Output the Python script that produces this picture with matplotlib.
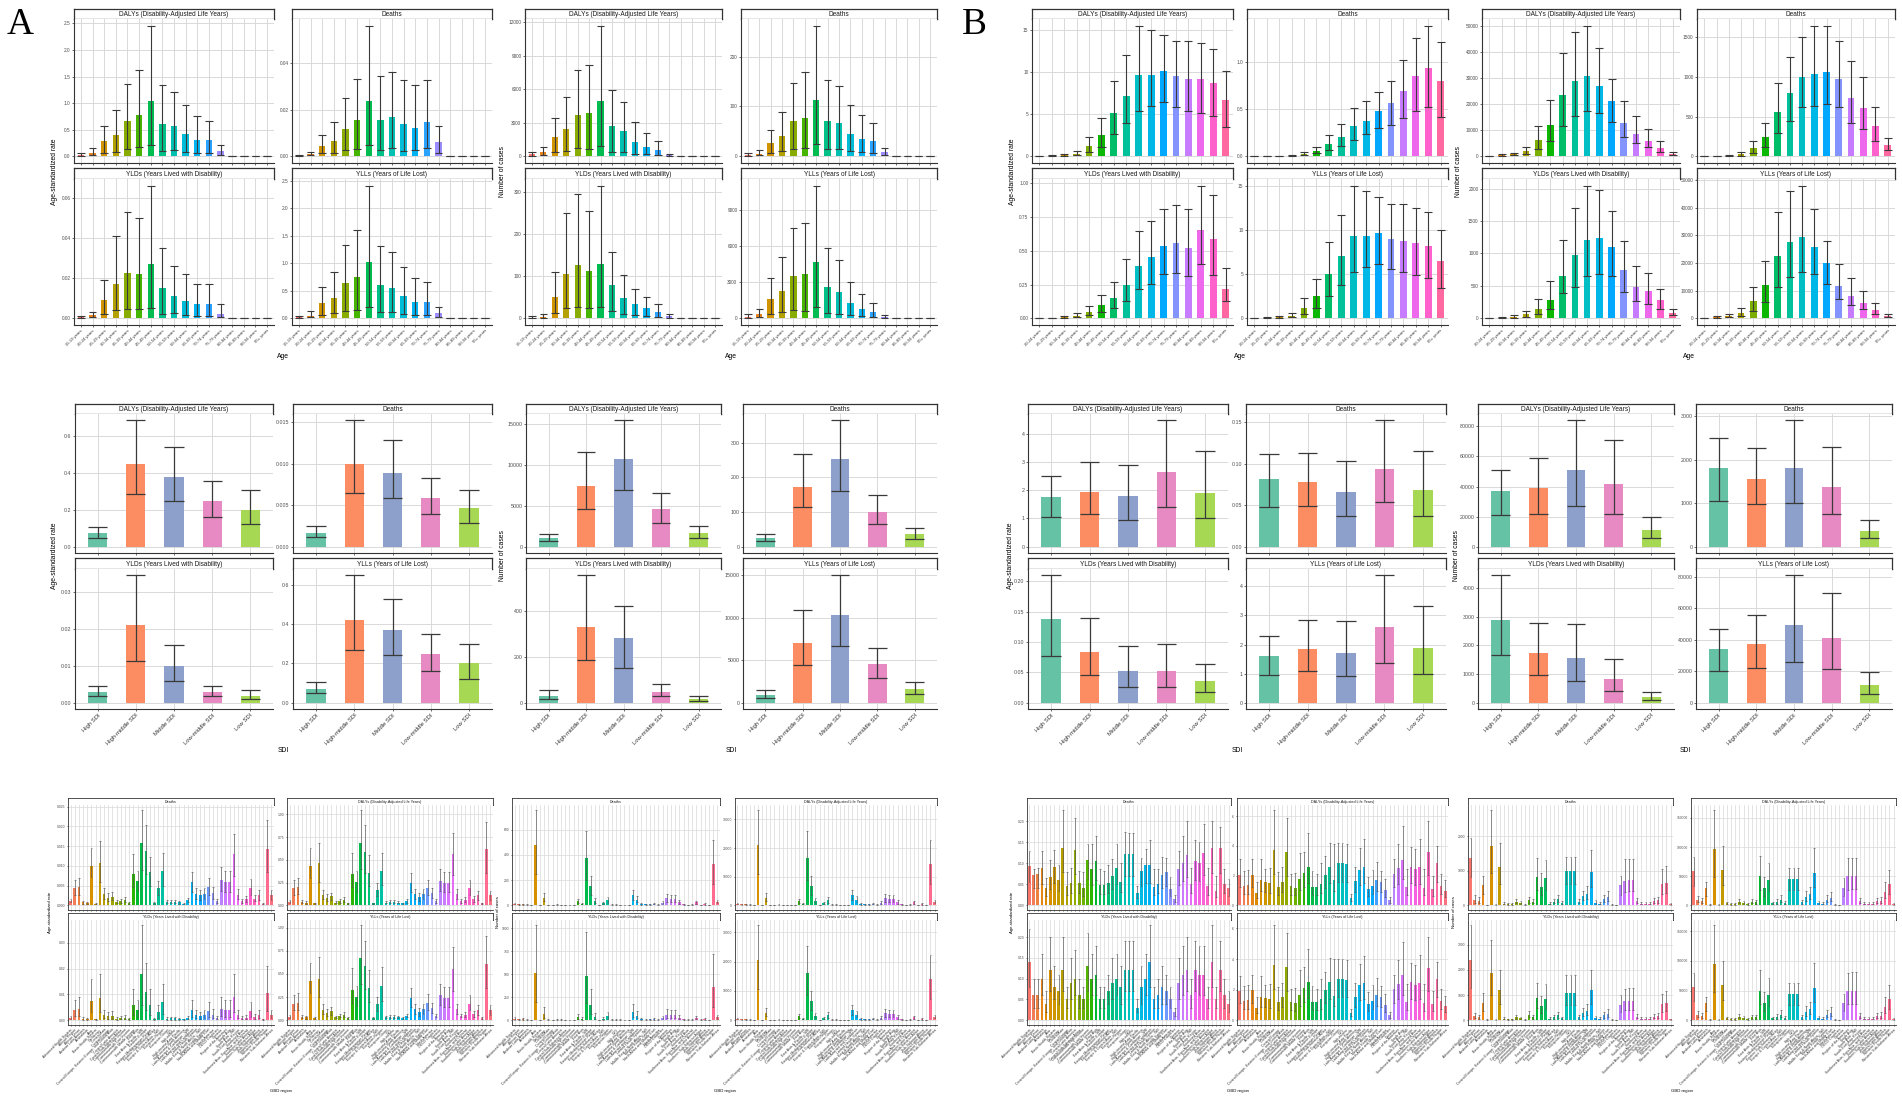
#%% libraries
import numpy as np
import matplotlib.pyplot as plt

plt.rcParams['font.family'] = ['Liberation Sans', 'DejaVu Sans']

#%% categories
age_a = ['15-19 years', '20-24 years', '25-29 years', '30-34 years', '35-39 years', '40-44 years',
         '45-49 years', '50-54 years', '55-59 years', '60-64 years', '65-69 years', '70-74 years',
         '75-79 years', '80-84 years', '85-89 years', '90-94 years', '95+ years']
age_b = ['20-24 years', '25-29 years', '30-34 years', '35-39 years', '40-44 years', '45-49 years',
         '50-54 years', '55-59 years', '60-64 years', '65-69 years', '70-74 years', '75-79 years',
         '80-84 years', '85-89 years', '90-94 years', '95+ years']
sdi = ['High SDI', 'High-middle SDI', 'Middle SDI', 'Low-middle SDI', 'Low SDI']
regions = ["Advanced Health System", "African Region", "African Union", "Andean Latin America", "Australasia",
           "Asia", "Basic Health System", "Caribbean", "Central Asia", "Central Europe",
           "Central Europe, Eastern Europe, and Central Asia", "Central Latin America", "Central Sub-Saharan Africa",
           "Commonwealth High Income", "Commonwealth Low Income",
           "Commonwealth Middle Income", "East Asia", "East Asia & Pacific - WB", "Eastern Europe",
           "Eastern Mediterranean Region",
           "Eastern Sub-Saharan Africa", "Europe & Central Asia - WB", "European Region", "European Union", "G20",
           "High-income", "High-income Asia Pacific", "High-income North America", "Latin America & Caribbean - WB",
           "Latin America and Caribbean",
           "Limited Health System", "Middle East & North Africa - WB", "Minimal Health System",
           "North Africa and Middle East", "North America",
           "OECD Countries", "Oceania", "Region of the Americas", "South Asia", "South Asia - WB",
           "South-East Asia Region", "Southeast Asia", "Southeast Asia, East Asia, and Oceania",
           "Southern Latin America", "Southern Sub-Saharan Africa",
           "Sub-Saharan Africa", "Tropical Latin America", "Western Pacific Region", "Western Sub-Saharan Africa"]

#%% data, every facet is (value, lower, upper)
# panel A, age
a_age_rate_dalys = ([0.03, 0.07, 0.29, 0.40, 0.66, 0.77, 1.04, 0.61, 0.57, 0.42, 0.30, 0.30, 0.10, 0, 0, 0, 0],
                    [0.01, 0.03, 0.07, 0.09, 0.14, 0.17, 0.21, 0.11, 0.12, 0.08, 0.07, 0.07, 0.02, 0, 0, 0, 0],
                    [0.06, 0.16, 0.58, 0.87, 1.36, 1.63, 2.46, 1.34, 1.22, 0.96, 0.76, 0.66, 0.21, 0, 0, 0, 0])
a_age_rate_deaths = ([0.0005, 0.001, 0.0045, 0.0066, 0.012, 0.0157, 0.0239, 0.0157, 0.0168, 0.0141, 0.0124, 0.0149, 0.0061, 0, 0, 0, 0],
                     [0.0003, 0.0005, 0.0014, 0.0016, 0.0028, 0.0033, 0.005, 0.0028, 0.0038, 0.0025, 0.0028, 0.0035, 0.0014, 0, 0, 0, 0],
                     [0.0008, 0.002, 0.0092, 0.0146, 0.0253, 0.0332, 0.0562, 0.0345, 0.0362, 0.0328, 0.0307, 0.0328, 0.013, 0, 0, 0, 0])
a_age_rate_ylds = ([0.0007, 0.0015, 0.009, 0.017, 0.0225, 0.022, 0.027, 0.015, 0.011, 0.0085, 0.007, 0.007, 0.0023, 0, 0, 0, 0],
                   [0.0003, 0.0006, 0.0023, 0.004, 0.0048, 0.0045, 0.005, 0.0023, 0.0028, 0.0015, 0.0013, 0.0013, 0.0005, 0, 0, 0, 0],
                   [0.0012, 0.003, 0.019, 0.041, 0.0527, 0.050, 0.066, 0.035, 0.026, 0.022, 0.0173, 0.0173, 0.007, 0, 0, 0, 0])
a_age_rate_ylls = ([0.02, 0.05, 0.27, 0.37, 0.64, 0.75, 1.02, 0.60, 0.56, 0.41, 0.30, 0.29, 0.09, 0, 0, 0, 0],
                   [0.01, 0.02, 0.07, 0.09, 0.14, 0.16, 0.20, 0.11, 0.12, 0.08, 0.07, 0.07, 0.02, 0, 0, 0, 0],
                   [0.05, 0.13, 0.57, 0.85, 1.34, 1.60, 2.41, 1.32, 1.21, 0.94, 0.74, 0.66, 0.20, 0, 0, 0, 0])
a_age_num_dalys = ([200, 380, 1700, 2410, 3740, 3880, 4970, 2740, 2290, 1320, 820, 590, 150, 0, 0, 0, 0],
                   [80, 150, 410, 530, 735, 680, 970, 440, 410, 260, 180, 150, 40, 0, 0, 0, 0],
                   [400, 850, 3470, 5320, 7710, 8150, 11680, 5970, 4820, 3090, 2120, 1380, 260, 0, 0, 0, 0])
a_age_num_deaths = ([3, 5, 27, 40, 70, 77, 113, 70, 67, 45, 35, 30, 8, 0, 0, 0, 0],
                    [1, 2, 6, 10, 15, 17, 25, 15, 15, 10, 8, 7, 2, 0, 0, 0, 0],
                    [6, 13, 53, 88, 148, 170, 262, 153, 142, 103, 83, 67, 17, 0, 0, 0, 0])
a_age_num_ylds = ([2, 4, 50, 104, 126, 112, 128, 78, 48, 33, 24, 15, 5, 0, 0, 0, 0],
                  [1, 2, 12, 25, 28, 25, 27, 17, 11, 8, 6, 4, 1, 0, 0, 0, 0],
                  [5, 10, 110, 249, 295, 253, 314, 156, 103, 70, 50, 35, 10, 0, 0, 0, 0])
a_age_num_ylls = ([150, 350, 1600, 2300, 3500, 3700, 4700, 2600, 2200, 1300, 800, 550, 150, 0, 0, 0, 0],
                  [60, 140, 400, 500, 700, 650, 920, 420, 390, 250, 170, 140, 40, 0, 0, 0, 0],
                  [350, 800, 3340, 5090, 7500, 7900, 11000, 5830, 4800, 3000, 2000, 1300, 250, 0, 0, 0, 0])

# panel B, age
b_age_rate_dalys = ([0.02, 0.08, 0.15, 0.28, 1.26, 2.6, 5.2, 7.24, 9.65, 9.72, 10.16, 9.57, 9.25, 9.17, 8.74, 6.7],
                    [0.01, 0.04, 0.07, 0.12, 0.5, 1.18, 2.64, 3.94, 5.39, 5.98, 6.42, 5.9, 5.43, 5.2, 4.8, 3.5],
                    [0.05, 0.15, 0.3, 0.67, 2.36, 4.53, 8.94, 12.0, 15.55, 15.04, 14.45, 13.66, 13.66, 13.46, 12.8, 10.2])
b_age_rate_deaths = ([0.0005, 0.001, 0.002, 0.008, 0.025, 0.06, 0.133, 0.207, 0.319, 0.382, 0.481, 0.568, 0.698, 0.856, 0.94, 0.807],
                     [0.0002, 0.0005, 0.001, 0.004, 0.012, 0.035, 0.07, 0.116, 0.179, 0.235, 0.305, 0.34, 0.41, 0.484, 0.526, 0.42],
                     [0.001, 0.002, 0.004, 0.014, 0.049, 0.105, 0.228, 0.344, 0.516, 0.589, 0.681, 0.807, 1.025, 1.256, 1.393, 1.22])
b_age_rate_ylds = ([0.001, 0.003, 0.007, 0.02, 0.05, 0.1, 0.15, 0.25, 0.385, 0.452, 0.533, 0.558, 0.522, 0.651, 0.587, 0.22],
                   [0.0004, 0.001, 0.003, 0.008, 0.025, 0.05, 0.08, 0.13, 0.22, 0.256, 0.324, 0.337, 0.312, 0.398, 0.32, 0.13],
                   [0.002, 0.006, 0.014, 0.04, 0.09, 0.17, 0.27, 0.435, 0.644, 0.718, 0.804, 0.84, 0.804, 0.98, 0.914, 0.37])
b_age_rate_ylls = ([0.02, 0.07, 0.14, 0.26, 1.21, 2.5, 5.05, 7.0, 9.27, 9.27, 9.63, 9.02, 8.73, 8.52, 8.15, 6.5],
                   [0.01, 0.03, 0.06, 0.11, 0.47, 1.12, 2.55, 3.8, 5.2, 5.8, 6.17, 5.56, 5.2, 4.9, 4.55, 3.38],
                   [0.05, 0.14, 0.28, 0.62, 2.25, 4.44, 8.68, 11.7, 15.0, 14.4, 13.76, 12.9, 12.9, 12.5, 12.07, 10.0])
b_age_num_dalys = ([100, 630, 880, 1900, 6300, 12200, 23300, 28700, 30600, 27080, 21030, 12600, 8700, 6000, 3200, 900],
                   [40, 300, 400, 900, 2770, 5920, 11590, 15360, 17380, 16620, 13220, 7560, 5200, 3600, 1800, 500],
                   [250, 1000, 1500, 3780, 11590, 21400, 39670, 47600, 50000, 41560, 29600, 21000, 15500, 10500, 5800, 1600])
b_age_num_deaths = ([1, 3, 8, 25, 110, 250, 560, 800, 1000, 1040, 1060, 980, 740, 610, 380, 150],
                    [0.5, 1, 3, 10, 45, 120, 300, 450, 620, 640, 660, 620, 420, 340, 200, 80],
                    [2, 6, 15, 50, 200, 420, 920, 1250, 1500, 1650, 1650, 1450, 1200, 1000, 620, 230])
b_age_num_ylds = ([3, 10, 25, 60, 150, 290, 655, 980, 1211, 1237, 1098, 740, 480, 420, 280, 90],
                  [1, 4, 10, 25, 65, 140, 387, 490, 655, 680, 660, 400, 260, 220, 150, 45],
                  [6, 20, 50, 120, 300, 582, 1211, 1701, 2046, 1974, 1660, 1200, 800, 700, 450, 150])
b_age_num_ylls = ([100, 620, 850, 1840, 6150, 11900, 22650, 27700, 29400, 25840, 19930, 11860, 8200, 5600, 2900, 800],
                  [40, 290, 390, 870, 2700, 5780, 11200, 14870, 16720, 15940, 12560, 7160, 4940, 3380, 1650, 450],
                  [240, 980, 1450, 3660, 11300, 20800, 38500, 46000, 48000, 39600, 28000, 19800, 14700, 9800, 5400, 1450])

# SDI
a_sdi_rate_dalys = ([0.076, 0.449, 0.378, 0.250, 0.200], [0.049, 0.286, 0.247, 0.160, 0.122], [0.108, 0.688, 0.542, 0.357, 0.306])
a_sdi_rate_deaths = ([0.0017, 0.0100, 0.0089, 0.0058, 0.0046], [0.00115, 0.0064, 0.00585, 0.0039, 0.0029], [0.0025, 0.0152, 0.0128, 0.0083, 0.0068])
a_sdi_rate_ylds = ([0.0028, 0.021, 0.010, 0.0028, 0.0019], [0.0017, 0.0114, 0.0058, 0.0017, 0.001], [0.0046, 0.0345, 0.0155, 0.0044, 0.0033])
a_sdi_rate_ylls = ([0.071, 0.42, 0.37, 0.247, 0.20], [0.048, 0.27, 0.243, 0.16, 0.12], [0.105, 0.65, 0.53, 0.35, 0.30])
a_sdi_num_dalys = ([1008, 7339, 10645, 4556, 1613], [685, 4637, 6935, 2944, 1008], [1532, 11492, 15403, 6532, 2500])
a_sdi_num_deaths = ([26, 173, 253, 100, 38], [17.5, 114, 160, 65, 22], [38, 268, 365, 148, 55])
a_sdi_num_ylds = ([30, 330, 280, 45, 15], [18, 185, 150, 28, 8], [55, 555, 420, 80, 30])
a_sdi_num_ylls = ([900, 7000, 10300, 4500, 1600], [600, 4400, 6700, 2900, 1000], [1500, 10900, 15000, 6400, 2450])
b_sdi_rate_dalys = ([1.76, 1.94, 1.78, 2.66, 1.91], [1.04, 1.16, 0.96, 1.41, 1.0], [2.49, 2.99, 2.91, 4.48, 3.40])
b_sdi_rate_deaths = ([0.081, 0.078, 0.0656, 0.0935, 0.0676], [0.0477, 0.0485, 0.037, 0.0537, 0.0374], [0.112, 0.113, 0.103, 0.152, 0.115])
b_sdi_rate_ylds = ([0.138, 0.084, 0.052, 0.052, 0.035], [0.077, 0.046, 0.026, 0.026, 0.017], [0.21, 0.14, 0.093, 0.097, 0.064])
b_sdi_rate_ylls = ([1.62, 1.84, 1.72, 2.6, 1.87], [0.95, 1.09, 0.92, 1.38, 0.98], [2.3, 2.85, 2.8, 4.38, 3.34])
b_sdi_num_dalys = ([37000, 39000, 51000, 41500, 11000], [21000, 22000, 27000, 22000, 6000], [51000, 59000, 84000, 71000, 20000])
b_sdi_num_deaths = ([1800, 1560, 1800, 1380, 370], [1050, 970, 1000, 760, 200], [2500, 2270, 2900, 2280, 620])
b_sdi_num_ylds = ([2900, 1741, 1553, 835, 188], [1682, 965, 753, 424, 94], [4450, 2800, 2750, 1541, 388])
b_sdi_num_ylls = ([34160, 37400, 49500, 41000, 11030], [20100, 22270, 26160, 21190, 5620], [47000, 56000, 81000, 70000, 19680])

# GBD regions, panel A
a_gbd_rate_deaths = (
    [0.0011, 0.0044, 0.0046, 0.0007, 0.0005, 0.0100, 0.0004, 0.0107, 0.0029, 0.0019, 0.0022, 0.0008, 0.0011, 0.0013, 0.0005, 0.0079, 0.0061, 0.0158, 0.0138, 0.0083, 0.0005, 0.0043, 0.0086, 0.0008, 0.0009, 0.0009, 0.0007, 0.0004, 0.0012, 0.0058, 0.0029, 0.0025, 0.0029, 0.0046, 0.0030, 0.0011, 0.0063, 0.0058, 0.0058, 0.0129, 0.0027, 0.0011, 0.0015, 0.0044, 0.0017, 0.0025, 0.0004, 0.0142, 0.0025],
    [0.0007, 0.0026, 0.0027, 0.0004, 0.0003, 0.0071, 0.0002, 0.0060, 0.0017, 0.0011, 0.0013, 0.0005, 0.0006, 0.0008, 0.0003, 0.0046, 0.0036, 0.0090, 0.0080, 0.0048, 0.0003, 0.0025, 0.0050, 0.0005, 0.0005, 0.0005, 0.0004, 0.0002, 0.0007, 0.0034, 0.0017, 0.0014, 0.0017, 0.0027, 0.0017, 0.0006, 0.0037, 0.0034, 0.0034, 0.0075, 0.0016, 0.0006, 0.0009, 0.0026, 0.0010, 0.0014, 0.0002, 0.0083, 0.0014],
    [0.0015, 0.0063, 0.0069, 0.0011, 0.0009, 0.0146, 0.0006, 0.0163, 0.0044, 0.0030, 0.0034, 0.0012, 0.0016, 0.0020, 0.0008, 0.0130, 0.0088, 0.0242, 0.0203, 0.0123, 0.0008, 0.0061, 0.0132, 0.0012, 0.0013, 0.0013, 0.0011, 0.0006, 0.0018, 0.0084, 0.0044, 0.0038, 0.0044, 0.0069, 0.0046, 0.0016, 0.0096, 0.0088, 0.0088, 0.0180, 0.0041, 0.0016, 0.0023, 0.0066, 0.0026, 0.0038, 0.0006, 0.0215, 0.0038])
a_gbd_rate_dalys = (
    [0.04, 0.19, 0.20, 0.04, 0.03, 0.43, 0.02, 0.46, 0.11, 0.08, 0.10, 0.03, 0.05, 0.06, 0.02, 0.34, 0.26, 0.69, 0.59, 0.36, 0.02, 0.17, 0.38, 0.03, 0.04, 0.04, 0.03, 0.02, 0.05, 0.25, 0.12, 0.09, 0.12, 0.19, 0.13, 0.05, 0.27, 0.25, 0.25, 0.56, 0.12, 0.05, 0.06, 0.19, 0.07, 0.11, 0.02, 0.62, 0.11],
    [0.02, 0.11, 0.12, 0.02, 0.01, 0.30, 0.01, 0.26, 0.07, 0.05, 0.06, 0.02, 0.03, 0.04, 0.01, 0.20, 0.15, 0.40, 0.35, 0.21, 0.01, 0.10, 0.22, 0.02, 0.02, 0.02, 0.02, 0.01, 0.03, 0.15, 0.07, 0.05, 0.07, 0.11, 0.08, 0.03, 0.16, 0.15, 0.15, 0.33, 0.07, 0.03, 0.04, 0.11, 0.04, 0.06, 0.01, 0.36, 0.06],
    [0.06, 0.28, 0.30, 0.06, 0.05, 0.63, 0.03, 0.69, 0.17, 0.12, 0.14, 0.05, 0.07, 0.09, 0.03, 0.57, 0.38, 1.05, 0.88, 0.55, 0.03, 0.25, 0.58, 0.05, 0.06, 0.06, 0.05, 0.03, 0.07, 0.36, 0.18, 0.13, 0.18, 0.28, 0.19, 0.07, 0.40, 0.37, 0.37, 0.80, 0.18, 0.07, 0.09, 0.28, 0.10, 0.16, 0.03, 0.92, 0.16])
a_gbd_rate_ylds = (
    [0.0008, 0.004, 0.0045, 0.0006, 0.0004, 0.0075, 0.0003, 0.0085, 0.002, 0.0015, 0.0018, 0.0006, 0.0009, 0.001, 0.0004, 0.006, 0.004, 0.018, 0.011, 0.006, 0.0004, 0.003, 0.007, 0.0006, 0.0007, 0.0007, 0.0005, 0.0003, 0.0009, 0.004, 0.002, 0.0016, 0.002, 0.0035, 0.0022, 0.0008, 0.0045, 0.004, 0.004, 0.009, 0.002, 0.0008, 0.001, 0.0035, 0.0012, 0.002, 0.0003, 0.0105, 0.002],
    [0.0003, 0.0015, 0.0017, 0.0002, 0.0001, 0.003, 0.0001, 0.003, 0.0007, 0.0005, 0.0006, 0.0002, 0.0003, 0.0004, 0.0001, 0.002, 0.0014, 0.006, 0.004, 0.002, 0.0001, 0.001, 0.0025, 0.0002, 0.0002, 0.0002, 0.0002, 0.0001, 0.0003, 0.0014, 0.0007, 0.0006, 0.0007, 0.0012, 0.0008, 0.0003, 0.0016, 0.0014, 0.0014, 0.003, 0.0007, 0.0003, 0.0004, 0.0012, 0.0004, 0.0007, 0.0001, 0.0037, 0.0007],
    [0.0016, 0.008, 0.009, 0.0012, 0.0008, 0.016, 0.0006, 0.018, 0.004, 0.003, 0.0036, 0.0012, 0.0018, 0.002, 0.0008, 0.012, 0.008, 0.037, 0.022, 0.012, 0.0008, 0.006, 0.014, 0.0012, 0.0014, 0.0014, 0.001, 0.0006, 0.0018, 0.008, 0.004, 0.0032, 0.004, 0.007, 0.0044, 0.0016, 0.009, 0.008, 0.008, 0.018, 0.004, 0.0016, 0.002, 0.007, 0.0024, 0.004, 0.0006, 0.021, 0.004])
a_gbd_rate_ylls = (
    [0.04, 0.18, 0.19, 0.04, 0.03, 0.42, 0.02, 0.45, 0.11, 0.08, 0.10, 0.03, 0.05, 0.06, 0.02, 0.33, 0.25, 0.67, 0.58, 0.35, 0.02, 0.17, 0.37, 0.03, 0.04, 0.04, 0.03, 0.02, 0.05, 0.24, 0.12, 0.09, 0.12, 0.19, 0.13, 0.05, 0.27, 0.24, 0.24, 0.55, 0.12, 0.05, 0.06, 0.18, 0.07, 0.11, 0.02, 0.61, 0.11],
    [0.02, 0.11, 0.11, 0.02, 0.01, 0.29, 0.01, 0.25, 0.07, 0.05, 0.06, 0.02, 0.03, 0.04, 0.01, 0.19, 0.15, 0.39, 0.34, 0.20, 0.01, 0.10, 0.21, 0.02, 0.02, 0.02, 0.02, 0.01, 0.03, 0.14, 0.07, 0.05, 0.07, 0.11, 0.08, 0.03, 0.16, 0.14, 0.14, 0.32, 0.07, 0.03, 0.04, 0.11, 0.04, 0.06, 0.01, 0.35, 0.06],
    [0.06, 0.27, 0.29, 0.06, 0.05, 0.62, 0.03, 0.68, 0.17, 0.12, 0.14, 0.05, 0.07, 0.09, 0.03, 0.56, 0.37, 1.03, 0.86, 0.54, 0.03, 0.25, 0.57, 0.05, 0.06, 0.06, 0.05, 0.03, 0.07, 0.35, 0.18, 0.13, 0.18, 0.28, 0.19, 0.07, 0.39, 0.36, 0.36, 0.79, 0.18, 0.07, 0.09, 0.27, 0.10, 0.16, 0.03, 0.91, 0.16])
a_gbd_num_deaths = (
    [12, 6, 8, 4, 1, 480, 2, 60, 3, 2, 4, 3, 2, 2, 1, 30, 12, 380, 150, 35, 1, 15, 40, 5, 4, 3, 2, 1, 80, 45, 10, 6, 8, 12, 5, 20, 55, 50, 50, 25, 8, 3, 4, 22, 3, 10, 1, 330, 28],
    [7, 3, 4, 2, 0.5, 250, 1, 31, 2, 1, 2, 2, 1, 1, 0.5, 16, 6, 200, 80, 18, 0.5, 8, 21, 3, 2, 2, 1, 0.5, 42, 24, 5, 3, 4, 6, 3, 10, 29, 26, 26, 13, 4, 2, 2, 12, 2, 5, 0.5, 170, 15],
    [20, 10, 13, 7, 2, 760, 3, 95, 5, 3, 6, 5, 3, 3, 2, 48, 19, 590, 235, 55, 2, 24, 63, 8, 6, 5, 3, 2, 125, 70, 16, 10, 13, 19, 8, 31, 86, 78, 78, 39, 13, 5, 6, 35, 5, 16, 2, 520, 44])
a_gbd_num_dalys = (
    [530, 260, 350, 180, 45, 21100, 90, 2640, 130, 90, 180, 130, 90, 90, 45, 1320, 530, 16700, 6600, 1540, 45, 660, 1760, 220, 180, 130, 90, 45, 3520, 1980, 440, 260, 350, 530, 220, 880, 2420, 2200, 2200, 1100, 350, 130, 180, 970, 130, 440, 45, 14500, 1230],
    [310, 130, 180, 90, 20, 11000, 45, 1360, 90, 45, 90, 90, 45, 45, 20, 700, 260, 8800, 3520, 790, 20, 350, 920, 130, 90, 90, 45, 20, 1850, 1060, 220, 130, 180, 260, 130, 440, 1280, 1140, 1140, 570, 180, 90, 90, 530, 90, 220, 20, 7500, 660],
    [880, 440, 570, 310, 90, 33400, 130, 4180, 220, 130, 260, 220, 130, 130, 90, 2110, 840, 26000, 10300, 2420, 90, 1060, 2770, 350, 260, 220, 130, 90, 5500, 3080, 700, 440, 570, 840, 350, 1360, 3780, 3430, 3430, 1720, 570, 220, 260, 1540, 220, 700, 90, 22900, 1940])
a_gbd_num_ylds = (
    [15, 8, 10, 5, 1, 520, 2, 70, 4, 3, 5, 4, 2, 3, 1, 35, 15, 480, 170, 40, 1, 18, 45, 6, 5, 4, 2, 1, 90, 50, 12, 7, 9, 14, 6, 22, 60, 55, 55, 28, 9, 4, 5, 25, 4, 12, 1, 360, 30],
    [6, 3, 4, 2, 0.4, 200, 1, 27, 2, 1, 2, 2, 1, 1, 0.4, 14, 6, 185, 65, 15, 0.4, 7, 17, 2, 2, 2, 1, 0.4, 35, 19, 5, 3, 3, 5, 2, 8, 23, 21, 21, 11, 3, 2, 2, 10, 2, 5, 0.4, 140, 12],
    [30, 16, 20, 10, 2, 1040, 4, 140, 8, 6, 10, 8, 4, 6, 2, 70, 30, 960, 340, 80, 2, 36, 90, 12, 10, 8, 4, 2, 180, 100, 24, 14, 18, 28, 12, 44, 120, 110, 110, 56, 18, 8, 10, 50, 8, 24, 2, 720, 60])
a_gbd_num_ylls = (
    [515, 252, 340, 175, 44, 20580, 88, 2570, 126, 87, 175, 126, 88, 87, 44, 1285, 515, 16220, 6430, 1500, 44, 642, 1715, 214, 175, 126, 88, 44, 3430, 1930, 428, 253, 341, 516, 214, 858, 2360, 2145, 2145, 1072, 341, 126, 175, 945, 126, 428, 44, 14140, 1200],
    [300, 127, 175, 88, 20, 10700, 44, 1330, 88, 44, 88, 88, 44, 44, 20, 680, 253, 8600, 3430, 770, 20, 340, 900, 127, 88, 88, 44, 20, 1800, 1030, 215, 127, 175, 253, 127, 430, 1250, 1110, 1110, 555, 175, 88, 88, 515, 88, 215, 20, 7300, 645],
    [860, 430, 555, 300, 88, 32600, 127, 4080, 215, 127, 253, 215, 127, 127, 88, 2060, 820, 25400, 10050, 2360, 88, 1035, 2700, 340, 253, 215, 127, 88, 5370, 3000, 683, 430, 555, 820, 340, 1330, 3690, 3350, 3350, 1680, 555, 215, 253, 1500, 215, 683, 88, 22400, 1890])

# GBD regions, panel B
b_gbd_rate_deaths = (
    [0.094, 0.072, 0.075, 0.088, 0.04, 0.068, 0.09, 0.059, 0.136, 0.045, 0.052, 0.131, 0.054, 0.042, 0.108, 0.085, 0.104, 0.048, 0.048, 0.052, 0.069, 0.088, 0.055, 0.123, 0.122, 0.122, 0.029, 0.081, 0.095, 0.095, 0.044, 0.05, 0.073, 0.079, 0.038, 0.015, 0.085, 0.10, 0.12, 0.05, 0.105, 0.10, 0.125, 0.045, 0.135, 0.035, 0.135, 0.05, 0.04],
    [0.055, 0.04, 0.042, 0.05, 0.022, 0.038, 0.052, 0.033, 0.078, 0.025, 0.029, 0.075, 0.03, 0.023, 0.062, 0.048, 0.06, 0.027, 0.027, 0.029, 0.039, 0.05, 0.031, 0.07, 0.07, 0.07, 0.016, 0.046, 0.054, 0.054, 0.025, 0.028, 0.042, 0.045, 0.021, 0.008, 0.049, 0.057, 0.068, 0.028, 0.06, 0.057, 0.071, 0.025, 0.077, 0.02, 0.077, 0.028, 0.023],
    [0.13, 0.085, 0.088, 0.13, 0.065, 0.108, 0.132, 0.096, 0.227, 0.078, 0.088, 0.208, 0.081, 0.079, 0.146, 0.146, 0.165, 0.085, 0.081, 0.095, 0.11, 0.145, 0.10, 0.173, 0.171, 0.171, 0.045, 0.112, 0.133, 0.154, 0.085, 0.086, 0.115, 0.112, 0.068, 0.025, 0.129, 0.165, 0.20, 0.088, 0.154, 0.15, 0.192, 0.088, 0.2, 0.069, 0.186, 0.085, 0.062])
b_gbd_rate_dalys = (
    [2.07, 1.33, 1.38, 2.07, 0.84, 1.67, 1.56, 1.49, 3.71, 1.22, 1.6, 3.56, 1.27, 1.18, 1.78, 2.18, 2.6, 1.22, 1.22, 1.44, 2.04, 2.6, 1.67, 2.82, 2.82, 2.78, 0.49, 1.62, 2.38, 2.6, 1.11, 1.33, 1.71, 1.56, 1.04, 0.33, 2.11, 2.49, 3.07, 1.22, 2.6, 2.44, 2.56, 1.18, 3.56, 1.11, 2.82, 1.33, 0.96],
    [1.2, 0.75, 0.78, 1.2, 0.47, 0.94, 0.9, 0.85, 2.1, 0.68, 0.9, 2.0, 0.72, 0.66, 1.0, 1.25, 1.5, 0.68, 0.68, 0.8, 1.15, 1.48, 0.95, 1.6, 1.6, 1.58, 0.27, 0.92, 1.35, 1.48, 0.62, 0.75, 0.97, 0.88, 0.58, 0.18, 1.2, 1.42, 1.75, 0.68, 1.48, 1.38, 1.45, 0.66, 2.02, 0.62, 1.6, 0.75, 0.54],
    [3.1, 2.33, 2.38, 3.1, 1.56, 3.1, 2.44, 2.49, 6.44, 2.22, 2.56, 5.89, 2.11, 2.18, 3.49, 3.62, 4.84, 2.29, 2.11, 2.82, 3.33, 4.22, 4.16, 4.22, 4.22, 4.11, 0.78, 2.56, 3.84, 4.44, 1.93, 2.38, 2.89, 2.33, 1.78, 0.56, 3.11, 4.11, 5.33, 2.44, 3.96, 3.78, 4.44, 2.44, 5.67, 2.0, 4.0, 2.11, 1.67])
b_gbd_rate_ylds = (
    [0.14, 0.06, 0.06, 0.1, 0.04, 0.12, 0.08, 0.07, 0.12, 0.05, 0.09, 0.1, 0.06, 0.05, 0.13, 0.1, 0.11, 0.05, 0.05, 0.07, 0.09, 0.1, 0.08, 0.12, 0.12, 0.12, 0.03, 0.08, 0.1, 0.14, 0.05, 0.06, 0.08, 0.07, 0.05, 0.02, 0.09, 0.11, 0.12, 0.06, 0.12, 0.11, 0.11, 0.05, 0.14, 0.05, 0.12, 0.06, 0.04],
    [0.08, 0.03, 0.03, 0.06, 0.02, 0.07, 0.05, 0.04, 0.07, 0.03, 0.05, 0.06, 0.03, 0.03, 0.07, 0.06, 0.06, 0.03, 0.03, 0.04, 0.05, 0.06, 0.04, 0.07, 0.07, 0.07, 0.02, 0.04, 0.06, 0.08, 0.03, 0.03, 0.04, 0.04, 0.03, 0.01, 0.05, 0.06, 0.07, 0.03, 0.07, 0.06, 0.06, 0.03, 0.08, 0.03, 0.07, 0.03, 0.02],
    [0.22, 0.1, 0.1, 0.16, 0.07, 0.2, 0.13, 0.11, 0.2, 0.08, 0.15, 0.17, 0.1, 0.08, 0.21, 0.16, 0.18, 0.08, 0.08, 0.11, 0.15, 0.16, 0.13, 0.19, 0.19, 0.19, 0.05, 0.13, 0.16, 0.23, 0.08, 0.1, 0.13, 0.11, 0.08, 0.03, 0.15, 0.18, 0.2, 0.1, 0.19, 0.18, 0.18, 0.08, 0.23, 0.08, 0.19, 0.1, 0.07])
b_gbd_rate_ylls = (
    [1.93, 1.27, 1.32, 1.97, 0.8, 1.55, 1.48, 1.42, 3.59, 1.17, 1.51, 3.46, 1.21, 1.13, 1.65, 2.08, 2.49, 1.17, 1.17, 1.37, 1.95, 2.5, 1.59, 2.7, 2.7, 2.66, 0.46, 1.54, 2.28, 2.46, 1.06, 1.27, 1.63, 1.49, 0.99, 0.31, 2.02, 2.38, 2.95, 1.16, 2.48, 2.33, 2.45, 1.13, 3.42, 1.06, 2.7, 1.27, 0.92],
    [1.12, 0.72, 0.75, 1.14, 0.45, 0.87, 0.85, 0.81, 2.03, 0.65, 0.85, 1.94, 0.69, 0.63, 0.93, 1.19, 1.44, 0.65, 0.65, 0.76, 1.1, 1.42, 0.91, 1.53, 1.53, 1.51, 0.25, 0.88, 1.29, 1.4, 0.59, 0.72, 0.93, 0.84, 0.55, 0.17, 1.15, 1.36, 1.68, 0.65, 1.41, 1.32, 1.39, 0.63, 1.94, 0.59, 1.53, 0.72, 0.52],
    [2.9, 2.23, 2.28, 2.95, 1.49, 2.9, 2.31, 2.38, 6.24, 2.14, 2.41, 5.72, 2.01, 2.1, 3.28, 3.46, 4.66, 2.21, 2.03, 2.71, 3.18, 4.06, 4.03, 4.03, 4.03, 3.92, 0.73, 2.43, 3.68, 4.21, 1.85, 2.28, 2.76, 2.22, 1.7, 0.53, 2.96, 3.93, 5.13, 2.34, 3.77, 3.6, 4.26, 2.36, 5.44, 1.92, 3.81, 2.01, 1.6])
b_gbd_num_deaths = (
    [1380, 143, 114, 590, 10, 1714, 20, 1095, 48, 29, 29, 95, 67, 20, 143, 95, 810, 524, 790, 48, 95, 171, 67, 1000, 1000, 1000, 95, 257, 333, 952, 76, 48, 171, 238, 20, 5, 571, 714, 733, 733, 124, 48, 48, 48, 124, 143, 600, 640, 30],
    [810, 70, 55, 320, 5, 924, 10, 600, 25, 15, 15, 50, 35, 10, 75, 50, 450, 290, 440, 25, 50, 90, 35, 620, 620, 620, 50, 140, 180, 520, 40, 25, 90, 130, 10, 2, 310, 390, 400, 400, 65, 25, 25, 25, 65, 75, 330, 350, 15],
    [1930, 285, 238, 857, 20, 2760, 40, 1790, 90, 55, 55, 170, 120, 40, 250, 170, 1360, 933, 1314, 90, 170, 300, 120, 1400, 1400, 1400, 170, 420, 560, 1590, 140, 90, 300, 400, 40, 10, 857, 1333, 1340, 1350, 220, 90, 90, 90, 220, 250, 1050, 1124, 55])
b_gbd_num_dalys = (
    [59000, 9550, 6700, 29200, 900, 96600, 1100, 61200, 3000, 2000, 2000, 6000, 4000, 1500, 5600, 5000, 50000, 29000, 44000, 3000, 5500, 9800, 3800, 45000, 45000, 45000, 5200, 14000, 18500, 56000, 4200, 2700, 9500, 13000, 1200, 300, 29000, 50000, 50500, 50500, 7000, 2700, 2700, 2700, 7000, 8000, 23500, 36000, 1700],
    [33100, 5000, 3500, 16000, 450, 48900, 550, 34000, 1500, 1000, 1000, 3200, 2000, 750, 3000, 2600, 27000, 15500, 24000, 1500, 2900, 5200, 2000, 27000, 27000, 27000, 2700, 7500, 10000, 31000, 2200, 1400, 5000, 7000, 600, 150, 16000, 27000, 27500, 27500, 3700, 1400, 1400, 1400, 3700, 4200, 12500, 19500, 900],
    [83700, 16000, 13000, 40400, 1800, 164000, 2200, 101000, 6000, 4000, 4000, 11000, 8000, 3000, 10000, 9000, 85400, 48000, 72500, 6000, 10000, 17000, 7000, 64000, 64000, 64000, 9500, 24000, 31000, 99000, 8000, 5000, 17000, 22000, 2400, 600, 46000, 81000, 82000, 82000, 13000, 5000, 5000, 5000, 13000, 14000, 40000, 61000, 3200])
b_gbd_num_ylds = (
    [2400, 160, 120, 700, 15, 1900, 25, 1200, 60, 35, 35, 110, 80, 25, 220, 120, 900, 560, 850, 60, 110, 200, 80, 1100, 1100, 1100, 110, 300, 380, 1200, 90, 60, 200, 260, 25, 6, 620, 760, 780, 780, 140, 60, 60, 60, 140, 170, 640, 700, 35],
    [1300, 80, 60, 380, 8, 1000, 12, 650, 30, 18, 18, 55, 40, 12, 110, 60, 480, 300, 450, 30, 55, 100, 40, 600, 600, 600, 55, 160, 200, 650, 45, 30, 100, 140, 12, 3, 330, 400, 420, 420, 70, 30, 30, 30, 70, 85, 340, 370, 18],
    [3800, 280, 210, 1100, 30, 3200, 45, 2000, 110, 60, 60, 190, 140, 45, 380, 210, 1500, 950, 1450, 110, 190, 340, 140, 1800, 1800, 1800, 190, 500, 630, 2000, 160, 110, 340, 440, 45, 11, 1000, 1250, 1300, 1300, 240, 110, 110, 110, 240, 290, 1050, 1150, 60])
b_gbd_num_ylls = (
    [56600, 9390, 6580, 28500, 885, 94700, 1075, 60000, 2940, 1965, 1965, 5890, 3920, 1475, 5380, 4880, 49100, 28440, 43150, 2940, 5390, 9600, 3720, 43900, 43900, 43900, 5090, 13700, 18120, 54800, 4110, 2640, 9300, 12740, 1175, 294, 28380, 49240, 49720, 49720, 6860, 2640, 2640, 2640, 6860, 7830, 22860, 35300, 1665],
    [31800, 4920, 3440, 15620, 442, 47900, 538, 33350, 1470, 982, 982, 3145, 1960, 738, 2890, 2540, 26520, 15200, 23550, 1470, 2845, 5100, 1960, 26400, 26400, 26400, 2645, 7340, 9800, 30350, 2155, 1370, 4900, 6860, 588, 147, 15670, 26600, 27080, 27080, 3630, 1370, 1370, 1370, 3630, 4115, 12160, 19130, 882],
    [80000, 15700, 12800, 39300, 1770, 160800, 2150, 99000, 5900, 3940, 3940, 10800, 7860, 2950, 9620, 8790, 83900, 47050, 71050, 5890, 9810, 16660, 6860, 62200, 62200, 62200, 9310, 23500, 30370, 97000, 7840, 4890, 16660, 21560, 2350, 590, 45000, 79750, 80700, 80700, 12760, 4890, 4890, 4890, 12760, 13710, 38950, 59850, 3140])

t_dalys = 'DALYs (Disability-Adjusted Life Years)'
t_deaths = 'Deaths'
t_ylds = 'YLDs (Years Lived with Disability)'
t_ylls = 'YLLs (Years of Life Lost)'
set2 = ['#66C2A5', '#FC8D62', '#8DA0CB', '#E78AC3', '#A6D854']


#%% helpers
def hue_colors(n, c=100.0, l=65.0):
    # ggplot2 default hue palette, hcl -> sRGB
    h = np.deg2rad(np.linspace(15, 375, n + 1)[:-1])
    u, v = c * np.cos(h), c * np.sin(h)
    xn, yn, zn = 95.047, 100.0, 108.883
    un = 4 * xn / (xn + 15 * yn + 3 * zn)
    vn = 9 * yn / (xn + 15 * yn + 3 * zn)
    y = yn * ((l + 16) / 116) ** 3
    up, vp = u / (13 * l) + un, v / (13 * l) + vn
    x = y * 9 * up / (4 * vp)
    z = y * (12 - 3 * up - 20 * vp) / (4 * vp)
    xyz = np.stack([x, np.full_like(x, y), z]) / 100
    m = np.array([[3.2404542, -1.5371385, -0.4985314],
                  [-0.9692660, 1.8760108, 0.0415560],
                  [0.0556434, -0.2040259, 1.0572252]])
    rgb = m @ xyz
    rgb = np.where(rgb <= 0.0031308, 12.92 * rgb, 1.055 * np.abs(rgb) ** (1 / 2.4) - 0.055)
    return np.clip(rgb.T, 0, 1)


def extended(dmin, dmax, m=5, Q=(1, 5, 2, 2.5, 4, 3), w=(0.25, 0.2, 0.5, 0.05)):
    # Wilkinson extended breaks, as used by ggplot2
    eps = 1e-10
    n = len(Q)
    rng = dmax - dmin
    best, best_score = None, -2
    j = 1
    while j < 30:
        stop = False
        for qi, q in enumerate(Q):
            sm = 1 - qi / (n - 1) - j + 1
            if w[0] * sm + w[1] + w[2] + w[3] < best_score:
                stop = True
                break
            k = 2
            while k < 40:
                dm = 2 - (k - 1) / (m - 1) if k >= m else 1
                if w[0] * sm + w[1] + w[2] * dm + w[3] < best_score:
                    break
                delta = rng / (k + 1) / j / q
                z = int(np.ceil(np.log10(delta)))
                while z < 40:
                    step = j * q * 10.0 ** z
                    span = step * (k - 1)
                    if span > rng:
                        half = (span - rng) / 2
                        cm = 1 - 0.5 * (2 * half ** 2) / ((0.1 * rng) ** 2)
                    else:
                        cm = 1
                    if w[0] * sm + w[1] * cm + w[2] * dm + w[3] < best_score:
                        break
                    min_start = int(np.floor(dmax / step)) * j - (k - 1) * j
                    max_start = int(np.ceil(dmin / step)) * j
                    if min_start > max_start:
                        z += 1
                        continue
                    for start in range(min_start, max_start + 1):
                        lmin = start * (step / j)
                        lmax = lmin + step * (k - 1)
                        r = lmin % step
                        vv = 1 if ((r < eps or step - r < eps) and lmin <= 0 <= lmax) else 0
                        s = 1 - qi / (n - 1) - j + vv
                        cc = 1 - 0.5 * ((dmax - lmax) ** 2 + (dmin - lmin) ** 2) / ((0.1 * rng) ** 2)
                        rr = (k - 1) / (lmax - lmin)
                        rt = (m - 1) / (max(lmax, dmax) - min(dmin, lmin))
                        g = 2 - max(rr / rt, rt / rr)
                        score = w[0] * s + w[1] * cc + w[2] * g + w[3]
                        if score > best_score:
                            best_score, best = score, (lmin, lmax, step)
                    z += 1
                k += 1
        if stop:
            break
        j += 1
    lmin, lmax, step = best
    return np.arange(lmin, lmax + step / 2, step)


def fmt(br):
    for d in range(0, 7):
        if np.allclose(np.round(br, d), br, rtol=0, atol=1e-9):
            break
    return [f'{b:.{d}f}' for b in br]


W, H = 1902, 1096
fig = plt.figure(figsize=(W / 100, H / 100), dpi=100)


def add_ax(x0, y0, x1, y1):
    return fig.add_axes([x0 / W, 1 - y1 / H, (x1 - x0) / W, (y1 - y0) / H])


def facet(xs, ys, title, cats, data, colors, st, show_x):
    x0, x1 = xs
    s0, s1, p1 = ys
    sax = add_ax(x0, s0, x1, s1)
    sax.set_xticks([])
    sax.set_yticks([])
    for sp in sax.spines.values():
        sp.set_color('#333333')
        sp.set_linewidth(st['slw'])
    sax.text(0.5, 0.45, title, ha='center', va='center', fontsize=st['strip'], color='#1A1A1A',
             transform=sax.transAxes)

    ax = add_ax(x0, s1, x1, p1)
    val, lo, hi = (np.array(a, dtype=float) for a in data)
    x = np.arange(len(cats))
    ax.bar(x, val, width=st['bw'], color=colors, zorder=2)
    ax.vlines(x, lo, hi, color=st['ecol'], lw=st['elw'], zorder=3)
    cw = st['cw'] / 2
    ax.hlines(lo, x - cw, x + cw, color=st['ecol'], lw=st['elw'], zorder=3)
    ax.hlines(hi, x - cw, x + cw, color=st['ecol'], lw=st['elw'], zorder=3)

    top = hi.max()
    ymin, ymax = -0.05 * top, 1.05 * top
    ax.set_ylim(ymin, ymax)
    ax.set_xlim(-0.6, len(cats) - 0.4)
    br = extended(ymin, ymax)
    br = br[(br >= ymin - 1e-12) & (br <= ymax + 1e-12)]
    ax.set_yticks(br)
    ax.set_yticklabels(fmt(br))
    ax.set_xticks(x)
    if show_x:
        ax.set_xticklabels(cats, rotation=45, ha='right', va='top', rotation_mode='anchor',
                           fontsize=st['xtick'], color='#4D4D4D')
    else:
        ax.set_xticklabels([])
    ax.grid(True, color='#D9D9D9', lw=st['glw'], zorder=0)
    ax.set_axisbelow(True)
    for side in ['top', 'right']:
        ax.spines[side].set_visible(False)
    for side in ['left', 'bottom']:
        ax.spines[side].set_color('#333333')
        ax.spines[side].set_linewidth(st['alw'])
    ax.tick_params(axis='y', labelsize=st['tick'], colors='#333333', labelcolor='#4D4D4D',
                   length=st['tl'], width=0.5, pad=1)
    ax.tick_params(axis='x', colors='#333333', length=st['tl'], width=0.5, pad=1)


#%% layout, pixels
rows = {
    'age': dict(ys=[(9, 19, 163), (168, 179, 325)], xlab_y=356, ylab_y=172,
                tick=3.4, strip=4.7, title=4.9, xtick=3.0, bw=0.55, cw=0.65, elw=0.8,
                ecol='#3A3A3A', glw=0.7, alw=0.8, slw=0.9, tl=1.6),
    'sdi': dict(ys=[(404, 414, 553), (558, 569, 709)], xlab_y=750, ylab_y=556,
                tick=3.8, strip=4.7, title=4.9, xtick=4.2, bw=0.5, cw=0.5, elw=0.9,
                ecol='#3A3A3A', glw=0.7, alw=0.8, slw=0.9, tl=1.6),
    'gbd': dict(ys=[(798, 805, 910), (913, 920, 1025)], xlab_y=1091, ylab_y=912,
                tick=2.4, strip=2.7, title=3.1, xtick=2.5, bw=0.62, cw=0.45, elw=0.45,
                ecol='#555555', glw=0.5, alw=0.6, slw=0.6, tl=1.0),
}
cols = {
    ('age', 'A', 'rate'): [(74, 274), (292, 492)], ('age', 'A', 'num'): [(525, 722), (741, 937)],
    ('age', 'B', 'rate'): [(1032, 1233), (1247, 1448)], ('age', 'B', 'num'): [(1482, 1680), (1697, 1895)],
    ('sdi', 'A', 'rate'): [(75, 273), (293, 492)], ('sdi', 'A', 'num'): [(526, 721), (743, 937)],
    ('sdi', 'B', 'rate'): [(1028, 1228), (1246, 1446)], ('sdi', 'B', 'num'): [(1478, 1674), (1696, 1892)],
    ('gbd', 'A', 'rate'): [(68, 274), (287, 493)], ('gbd', 'A', 'num'): [(512, 720), (735, 937)],
    ('gbd', 'B', 'rate'): [(1027, 1231), (1237, 1448)], ('gbd', 'B', 'num'): [(1468, 1673), (1691, 1896)],
}
ylab_x = {
    ('age', 'A', 'rate'): 55, ('age', 'A', 'num'): 502, ('age', 'B', 'rate'): 1012, ('age', 'B', 'num'): 1458,
    ('sdi', 'A', 'rate'): 55, ('sdi', 'A', 'num'): 502, ('sdi', 'B', 'rate'): 1010, ('sdi', 'B', 'num'): 1456,
    ('gbd', 'A', 'rate'): 50, ('gbd', 'A', 'num'): 498, ('gbd', 'B', 'rate'): 1012, ('gbd', 'B', 'num'): 1454,
}

facets = {
    ('age', 'A', 'rate'): [[(t_dalys, a_age_rate_dalys), (t_deaths, a_age_rate_deaths)],
                           [(t_ylds, a_age_rate_ylds), (t_ylls, a_age_rate_ylls)]],
    ('age', 'A', 'num'): [[(t_dalys, a_age_num_dalys), (t_deaths, a_age_num_deaths)],
                          [(t_ylds, a_age_num_ylds), (t_ylls, a_age_num_ylls)]],
    ('age', 'B', 'rate'): [[(t_dalys, b_age_rate_dalys), (t_deaths, b_age_rate_deaths)],
                           [(t_ylds, b_age_rate_ylds), (t_ylls, b_age_rate_ylls)]],
    ('age', 'B', 'num'): [[(t_dalys, b_age_num_dalys), (t_deaths, b_age_num_deaths)],
                          [(t_ylds, b_age_num_ylds), (t_ylls, b_age_num_ylls)]],
    ('sdi', 'A', 'rate'): [[(t_dalys, a_sdi_rate_dalys), (t_deaths, a_sdi_rate_deaths)],
                           [(t_ylds, a_sdi_rate_ylds), (t_ylls, a_sdi_rate_ylls)]],
    ('sdi', 'A', 'num'): [[(t_dalys, a_sdi_num_dalys), (t_deaths, a_sdi_num_deaths)],
                          [(t_ylds, a_sdi_num_ylds), (t_ylls, a_sdi_num_ylls)]],
    ('sdi', 'B', 'rate'): [[(t_dalys, b_sdi_rate_dalys), (t_deaths, b_sdi_rate_deaths)],
                           [(t_ylds, b_sdi_rate_ylds), (t_ylls, b_sdi_rate_ylls)]],
    ('sdi', 'B', 'num'): [[(t_dalys, b_sdi_num_dalys), (t_deaths, b_sdi_num_deaths)],
                          [(t_ylds, b_sdi_num_ylds), (t_ylls, b_sdi_num_ylls)]],
    ('gbd', 'A', 'rate'): [[(t_deaths, a_gbd_rate_deaths), (t_dalys, a_gbd_rate_dalys)],
                           [(t_ylds, a_gbd_rate_ylds), (t_ylls, a_gbd_rate_ylls)]],
    ('gbd', 'A', 'num'): [[(t_deaths, a_gbd_num_deaths), (t_dalys, a_gbd_num_dalys)],
                          [(t_ylds, a_gbd_num_ylds), (t_ylls, a_gbd_num_ylls)]],
    ('gbd', 'B', 'rate'): [[(t_deaths, b_gbd_rate_deaths), (t_dalys, b_gbd_rate_dalys)],
                           [(t_ylds, b_gbd_rate_ylds), (t_ylls, b_gbd_rate_ylls)]],
    ('gbd', 'B', 'num'): [[(t_deaths, b_gbd_num_deaths), (t_dalys, b_gbd_num_dalys)],
                          [(t_ylds, b_gbd_num_ylds), (t_ylls, b_gbd_num_ylls)]],
}
cats = {('age', 'A'): age_a, ('age', 'B'): age_b, ('sdi', 'A'): sdi, ('sdi', 'B'): sdi,
        ('gbd', 'A'): regions, ('gbd', 'B'): regions}
xtitle = {'age': 'Age', 'sdi': 'SDI', 'gbd': 'GBD region'}
ytitle = {'rate': 'Age-standardized rate', 'num': 'Number of cases'}

#%% plotting
for (row, panel, kind), grid in facets.items():
    st = rows[row]
    cc = cats[(row, panel)]
    colors = set2 if row == 'sdi' else hue_colors(len(cc))
    xs = cols[(row, panel, kind)]
    for r in range(2):
        for c in range(2):
            title, data = grid[r][c]
            facet(xs[c], st['ys'][r], title, cc, data, colors, st, show_x=(r == 1))
    xc = (xs[0][0] + xs[1][1]) / 2
    fig.text(xc / W, 1 - st['xlab_y'] / H, xtitle[row], ha='center', va='center',
             fontsize=st['title'], color='black')
    fig.text(ylab_x[(row, panel, kind)] / W, 1 - st['ylab_y'] / H, ytitle[kind], rotation=90,
             ha='center', va='center', fontsize=st['title'], color='black')

fig.text(7 / W, 1 - 7 / H, 'A', ha='left', va='top', fontsize=27, family='Liberation Serif')
fig.text(962 / W, 1 - 7 / H, 'B', ha='left', va='top', fontsize=27, family='Liberation Serif')

plt.savefig('out.png', dpi=100, facecolor='white')
